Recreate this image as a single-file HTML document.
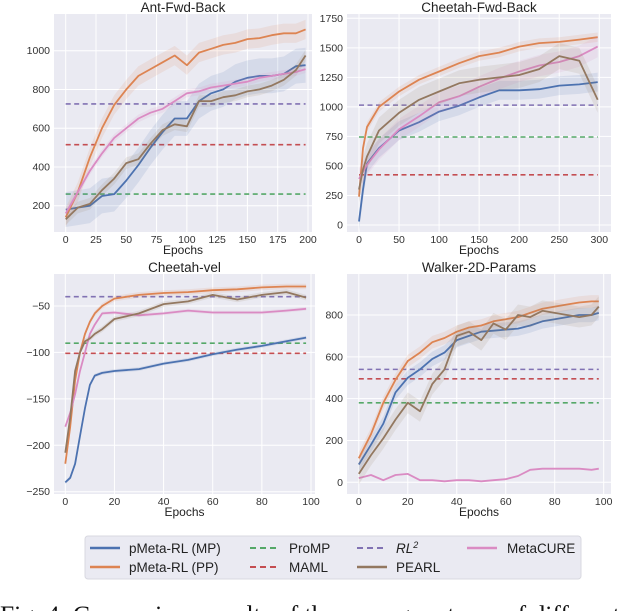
<!DOCTYPE html>
<html><head><meta charset="utf-8"><style>
html,body{margin:0;padding:0;background:#fff;width:640px;height:611px;overflow:hidden}
svg{display:block;font-family:"Liberation Sans",sans-serif}
</style></head><body>
<svg id="fig" width="640" height="611" viewBox="0 0 640 611">
<rect x="85" y="536" width="496" height="43" fill="#eaeaf2" stroke="#d8d8e0" rx="3"/>
<g font-size="13.5" fill="#222">
 <g><line x1="90" y1="548" x2="120" y2="548" stroke="#4c72b0" stroke-width="2.5"/><text x="129" y="553">pMeta-RL (MP)</text></g>
 <g><line x1="90" y1="567" x2="120" y2="567" stroke="#dd8452" stroke-width="2.5"/><text x="129" y="572">pMeta-RL (PP)</text></g>
 <g><line x1="250" y1="548" x2="280" y2="548" stroke="#55a868" stroke-width="2" stroke-dasharray="6,4"/><text x="289" y="553">ProMP</text></g>
 <g><line x1="250" y1="567" x2="280" y2="567" stroke="#c44e52" stroke-width="2" stroke-dasharray="6,4"/><text x="289" y="572">MAML</text></g>
 <g><line x1="357" y1="548" x2="387" y2="548" stroke="#8172b3" stroke-width="2" stroke-dasharray="6,4"/><text x="396" y="553" font-style="italic">RL<tspan dy="-5" font-size="9">2</tspan></text></g>
 <g><line x1="357" y1="567" x2="387" y2="567" stroke="#937860" stroke-width="2.5"/><text x="396" y="572">PEARL</text></g>
 <g><line x1="467" y1="548" x2="497" y2="548" stroke="#da8bc3" stroke-width="2.5"/><text x="507" y="553">MetaCURE</text></g>
</g>
<text x="0" y="623" font-family="'Liberation Serif',serif" font-size="25.5" fill="#111">Fig. 4: Comparison results of the average returns of different</text>
</svg>
<script>
// Ant-Fwd-Back
const antX=[0,10,20,30,40,50,60,70,80,90,100,110,120,130,140,150,160,170,180,190,198];
const antPP=[140,270,450,600,720,800,870,905,940,975,925,990,1010,1030,1040,1060,1065,1080,1090,1090,1110];
const antMP=[180,190,200,250,260,330,410,500,580,650,650,740,780,800,840,860,870,870,880,920,925];
const antCURE=[160,270,380,470,550,600,650,680,700,740,780,790,810,820,830,840,860,870,880,890,905];
const antPEARL=[130,190,210,280,340,420,440,520,590,620,610,740,740,760,770,790,800,820,850,900,975];
const antBase=[725,515,260];
// Cheetah-Fwd-Back
const cfbX=[0,5,10,25,50,75,100,125,150,175,200,225,250,275,298];
const cfbPP=[240,650,830,1000,1130,1230,1300,1370,1430,1460,1510,1540,1550,1570,1590];
const cfbMP=[30,300,520,650,800,870,960,1010,1080,1140,1140,1150,1180,1190,1210];
const cfbCURE=[390,450,510,640,810,920,1040,1090,1170,1240,1300,1350,1380,1430,1510];
const cfbPEARL=[300,470,580,800,950,1060,1130,1200,1230,1250,1270,1320,1430,1390,1060];
const cfbBase=[1015,425,745];
// Cheetah-vel
const cvX=[0,2,4,6,8,10,12,15,20,30,40,50,60,70,80,90,98];
const cvPP=[-220,-180,-130,-100,-80,-67,-58,-50,-42,-38,-36,-35,-33,-32,-30,-29,-29];
const cvMP=[-240,-235,-220,-190,-160,-135,-125,-122,-120,-118,-112,-108,-102,-97,-93,-88,-84];
const cvCURE=[-180,-165,-145,-120,-100,-80,-70,-58,-57,-60,-58,-55,-57,-57,-57,-55,-53];
const cvPEARL=[-208,-170,-120,-100,-88,-85,-80,-75,-64,-58,-48,-45,-38,-43,-38,-35,-41];
const cvBase=[-40,-101,-90];
// Walker-2D-Params
const wX=[0,5,10,15,20,25,30,35,40,45,50,55,60,65,70,75,80,85,90,95,98];
const wPP=[115,230,380,490,580,620,670,690,720,740,750,770,780,790,810,830,840,850,860,865,865];
const wMP=[85,180,280,430,500,540,590,620,680,700,720,725,730,735,750,770,780,790,800,800,810];
const wPEARL=[40,130,210,300,380,340,470,540,700,720,680,760,730,800,790,820,810,800,790,800,840];
const wCURE=[20,35,10,35,40,10,10,5,10,10,5,10,15,30,60,65,65,65,65,60,65];
const wBase=[540,495,380];

const C={mp:'#4c72b0',pp:'#dd8452',promp:'#55a868',maml:'#c44e52',rl2:'#8172b3',pearl:'#937860',cure:'#da8bc3'};
const svg=document.getElementById('fig');
const NS='http://www.w3.org/2000/svg';
function mk(tag,attrs,parent){const e=document.createElementNS(NS,tag);for(const k in attrs)e.setAttribute(k,attrs[k]);(parent||svg).appendChild(e);return e;}

function panel(p){
  const g=mk('g',{});
  
  
  const sx=v=>p.px0+(v-p.x0)*(p.px1-p.px0)/(p.x1-p.x0);
  const sy=v=>p.py0+(v-p.y0)*(p.py1-p.py0)/(p.y1-p.y0);
  const bg=mk('rect',{x:p.L,y:p.T,width:p.R-p.L,height:p.B-p.T,fill:'#eaeaf2'},g);
  
  
  p.xt.forEach(t=>{
    const l=mk('line',{x1:sx(t),x2:sx(t),y1:p.T,y2:p.B,stroke:'#fff','stroke-width':1},g);
    
    
    const tx=mk('text',{x:sx(t),y:p.B+11,'font-size':10.5,fill:'#333','text-anchor':'middle'},g);
    tx.textContent=t;
    
    
  });
  p.yt.forEach(t=>{
    const l=mk('line',{x1:p.L,x2:p.R,y1:sy(t),y2:sy(t),stroke:'#fff','stroke-width':1},g);
    
    
    const tx=mk('text',{x:p.L-4,y:sy(t)+3.5,'font-size':10.5,fill:'#333','text-anchor':'end'},g);
    tx.textContent=String(t).replace('-','\u2212');
    
    
  });
  const bases=[['rl2',0],['maml',1],['promp',2]];
  bases.forEach(([k,i])=>{
    const l=mk('line',{x1:sx(p.bx0),x2:sx(p.bx1),y1:sy(p.base[i]),y2:sy(p.base[i]),stroke:C[k],'stroke-width':1.6,'stroke-dasharray':'5,3.5'},g);
    
    
  });
  p.series.forEach(s=>{
    const xs=s.x,ys=s.y;
    let up='',dn='';
    xs.forEach((x,i)=>{up+=(i?'L':'M')+sx(x).toFixed(1)+','+sy(ys[i]+s.sp).toFixed(1);});
    for(let i=xs.length-1;i>=0;i--)dn+='L'+sx(xs[i]).toFixed(1)+','+sy(ys[i]-s.sp).toFixed(1);
    const band=mk('path',{d:up+dn+'Z',fill:C[s.k],opacity:0.13},g);
    
    
    const d=xs.map((x,i)=>(i?'L':'M')+sx(x).toFixed(1)+','+sy(ys[i]).toFixed(1)).join('');
    const ln=mk('path',{d:d,fill:'none',stroke:C[s.k],'stroke-width':1.8,'stroke-linejoin':'round'},g);
    
    
  });
  const tt=mk('text',{x:(p.L+p.R)/2,y:p.T-2,'font-size':13.5,fill:'#222','text-anchor':'middle'},g);
  tt.textContent=p.title;
  
  
  const xl=mk('text',{x:(p.L+p.R)/2,y:p.B+22,'font-size':12,fill:'#222','text-anchor':'middle'},g);
  xl.textContent='Epochs';
  
  
}

panel({name:'panel-ant-fwd-back',title:'Ant-Fwd-Back',L:54,R:312,T:14,B:232,
  x0:0,x1:200,px0:65.7,px1:308,y0:200,y1:1000,py0:205.7,py1:50.7,bx0:0,bx1:198,
  xt:[0,25,50,75,100,125,150,175,200],yt:[200,400,600,800,1000],base:antBase,
  series:[{k:'mp',x:antX,y:antMP,sp:90},{k:'pp',x:antX,y:antPP,sp:50},{k:'cure',x:antX,y:antCURE,sp:20},{k:'pearl',x:antX,y:antPEARL,sp:30}]});
panel({name:'panel-cheetah-fwd-back',title:'Cheetah-Fwd-Back',L:347,R:611,T:14,B:232,
  x0:0,x1:300,px0:359,px1:599.3,y0:0,y1:1750,py0:225,py1:18.3,bx0:0,bx1:298,
  xt:[0,50,100,150,200,250,300],yt:[0,250,500,750,1000,1250,1500,1750],base:cfbBase,
  series:[{k:'mp',x:cfbX,y:cfbMP,sp:80},{k:'pp',x:cfbX,y:cfbPP,sp:40},{k:'cure',x:cfbX,y:cfbCURE,sp:90},{k:'pearl',x:cfbX,y:cfbPEARL,sp:110}]});
panel({name:'panel-cheetah-vel',title:'Cheetah-vel',L:54,R:315,T:274,B:494,
  x0:0,x1:100,px0:65.3,px1:311,y0:-250,y1:-50,py0:491.7,py1:306,bx0:0,bx1:98,
  xt:[0,20,40,60,80,100],yt:[-250,-200,-150,-100,-50],base:cvBase,
  series:[{k:'mp',x:cvX,y:cvMP,sp:2},{k:'pp',x:cvX,y:cvPP,sp:3},{k:'cure',x:cvX,y:cvCURE,sp:2},{k:'pearl',x:cvX,y:cvPEARL,sp:3}]});
panel({name:'panel-walker-2d-params',title:'Walker-2D-Params',L:347,R:611,T:274,B:494,
  x0:0,x1:100,px0:358.8,px1:603.7,y0:0,y1:800,py0:482.3,py1:315,bx0:0,bx1:98,
  xt:[0,20,40,60,80,100],yt:[0,200,400,600,800],base:wBase,
  series:[{k:'mp',x:wX,y:wMP,sp:35},{k:'pp',x:wX,y:wPP,sp:30},{k:'cure',x:wX,y:wCURE,sp:3},{k:'pearl',x:wX,y:wPEARL,sp:50}]});
</script>
</body></html>
